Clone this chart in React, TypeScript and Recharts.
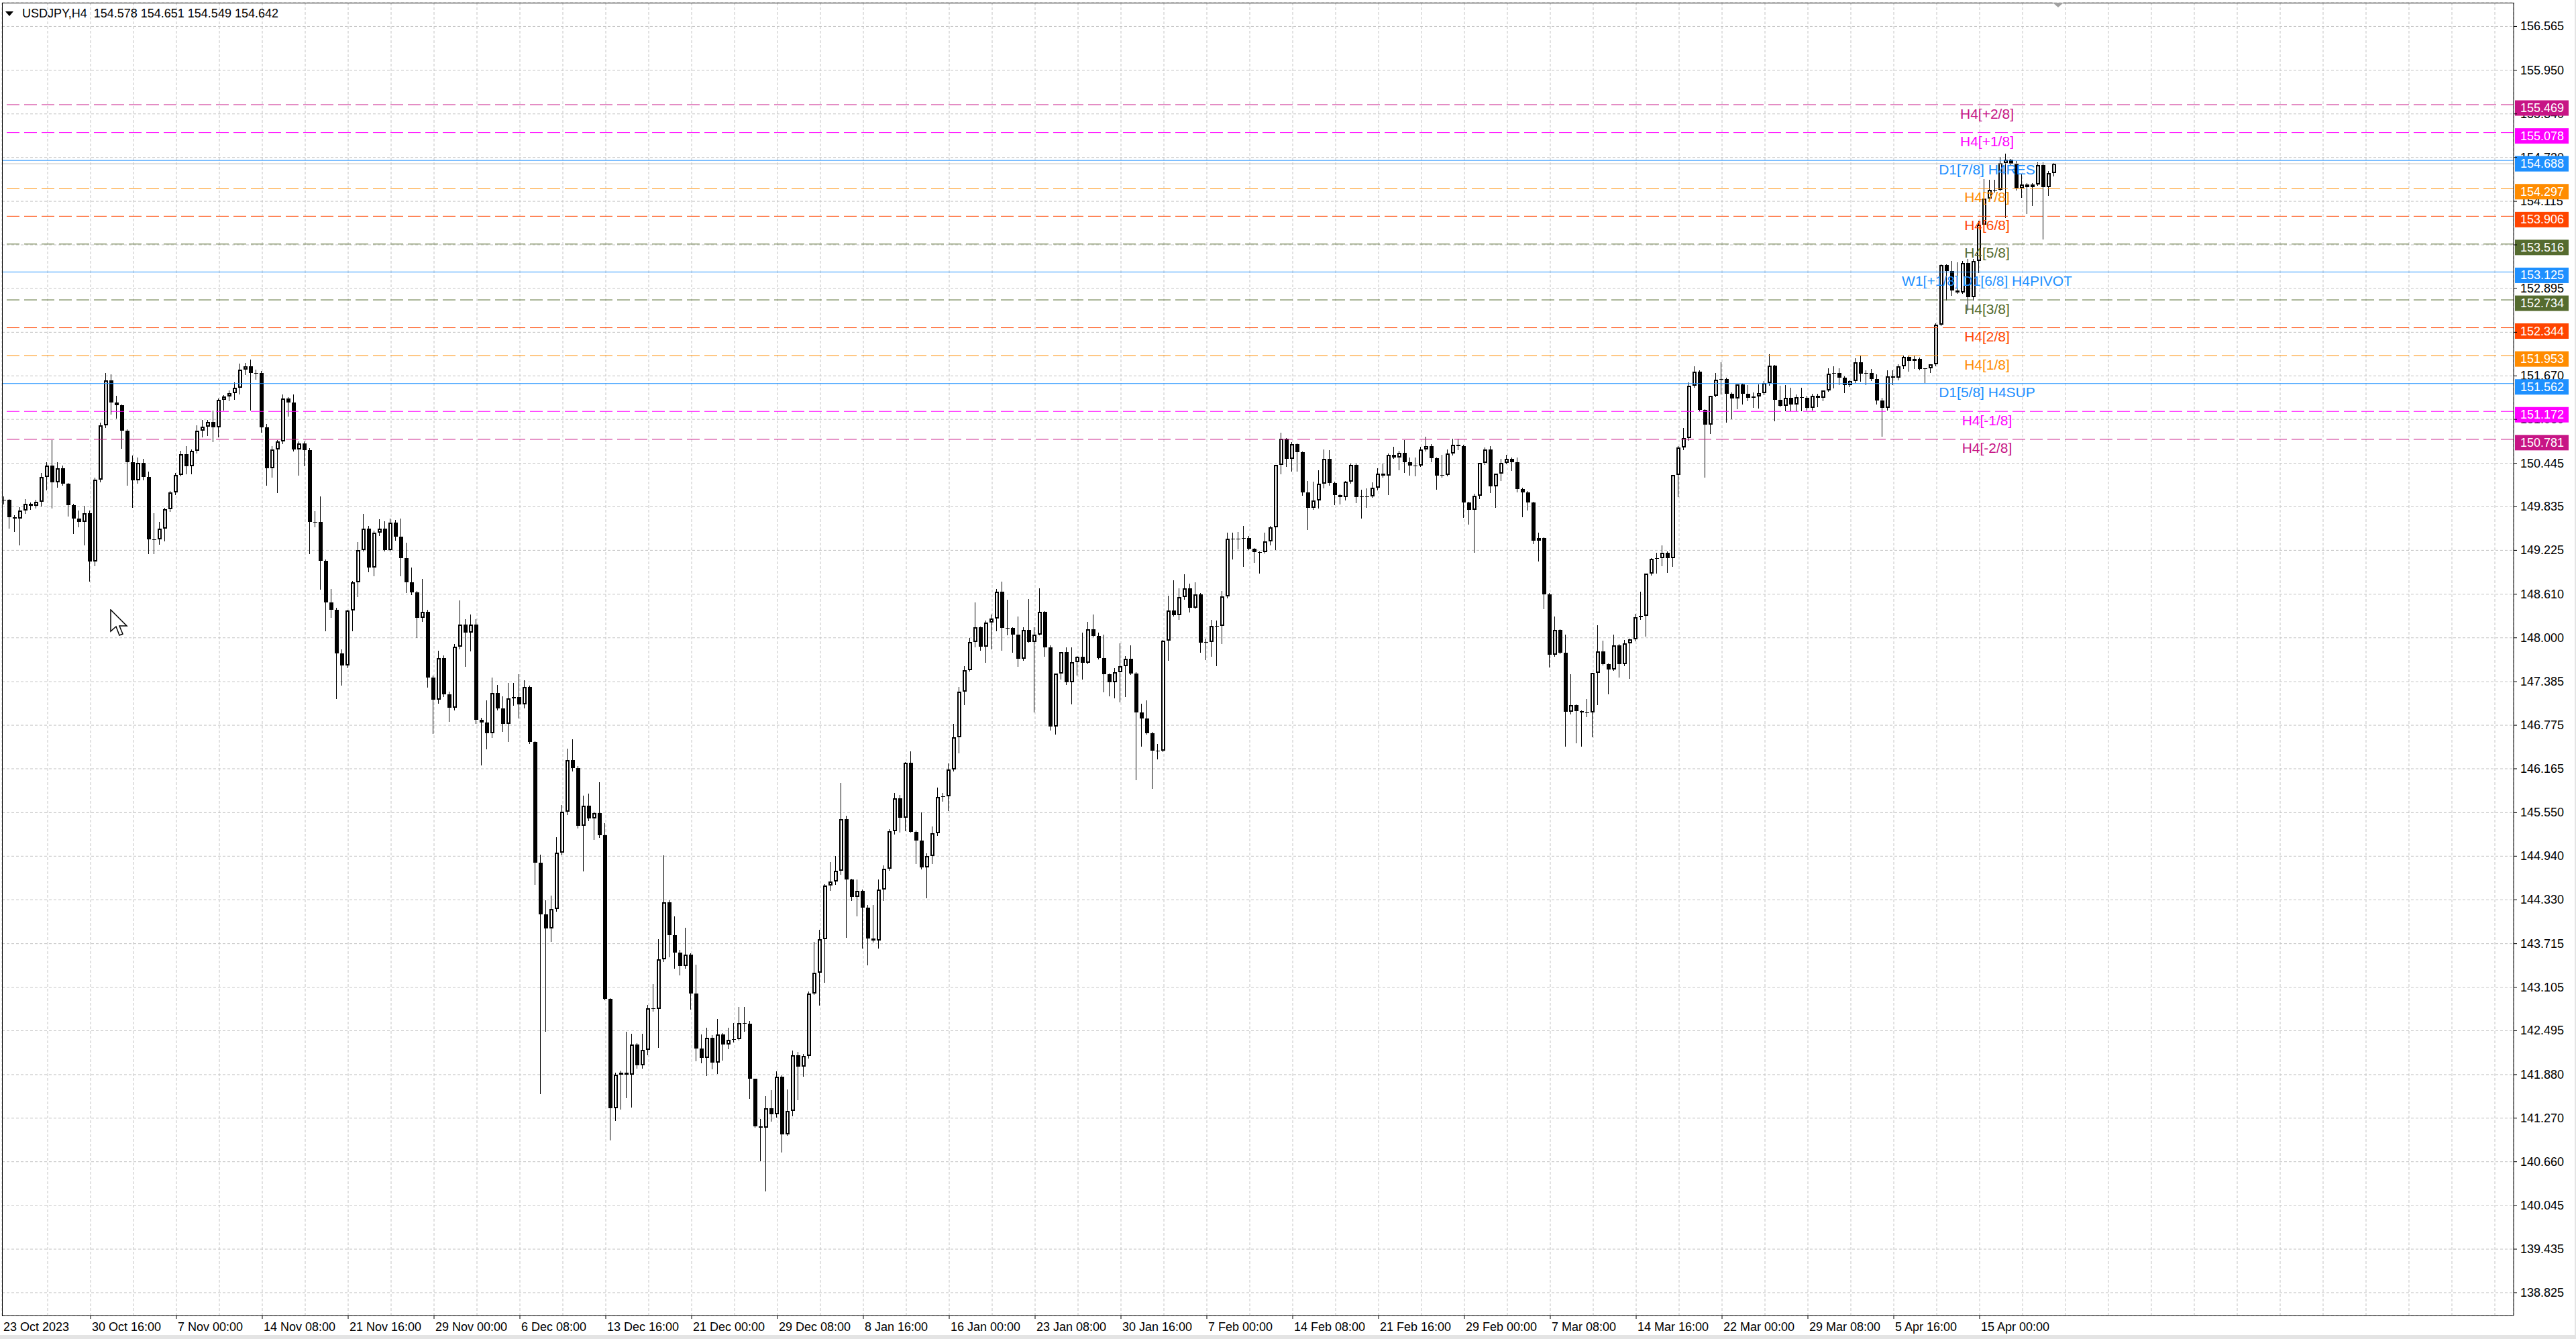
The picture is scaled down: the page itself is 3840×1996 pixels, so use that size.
import React from 'react'
import { ComposedChart, Bar, XAxis, YAxis, CartesianGrid, ReferenceLine } from 'recharts'

// USDJPY H4 per candle: [open, high, low, close]
const candlesOctNov = [
  [149.93, 149.98, 149.88, 149.93], [149.93, 149.94, 149.54, 149.69], [149.69, 149.72, 149.49, 149.67],
  [149.67, 149.83, 149.30, 149.78], [149.78, 149.94, 149.75, 149.88], [149.88, 149.90, 149.80, 149.85],
  [149.85, 149.93, 149.82, 149.91], [149.91, 150.31, 149.85, 150.25], [150.25, 150.46, 150.07, 150.41],
  [150.41, 150.77, 149.82, 150.18], [150.18, 150.46, 150.11, 150.38], [150.38, 150.41, 150.14, 150.16],
  [150.16, 150.17, 149.71, 149.86], [149.86, 149.88, 149.46, 149.67], [149.67, 149.78, 149.56, 149.62],
  [149.62, 149.85, 149.30, 149.75], [149.75, 149.78, 148.80, 149.07], [149.07, 150.24, 149.01, 150.22],
  [150.22, 151.01, 150.19, 150.98], [150.98, 151.71, 150.95, 151.61], [151.61, 151.69, 151.14, 151.30],
  [151.30, 151.39, 151.08, 151.26], [151.26, 151.27, 150.66, 150.90], [150.90, 150.92, 150.14, 150.46],
  [150.46, 150.55, 149.83, 150.21], [150.21, 150.53, 150.17, 150.45], [150.45, 150.51, 150.22, 150.25],
  [150.25, 150.33, 149.18, 149.38], [149.38, 149.75, 149.18, 149.38], [149.38, 149.62, 149.31, 149.53],
  [149.53, 149.82, 149.36, 149.80], [149.80, 150.06, 149.77, 150.04], [150.04, 150.31, 150.01, 150.28],
  [150.28, 150.62, 150.27, 150.57], [150.57, 150.69, 150.30, 150.40], [150.40, 150.64, 150.30, 150.62],
  [150.62, 150.98, 150.59, 150.90], [150.90, 151.05, 150.82, 150.96], [150.96, 151.05, 150.84, 151.02],
  [151.02, 151.18, 150.75, 150.95], [150.95, 151.35, 150.82, 151.33], [151.33, 151.40, 151.19, 151.38],
  [151.38, 151.47, 151.32, 151.43], [151.43, 151.58, 151.34, 151.50], [151.50, 151.84, 151.42, 151.76],
  [151.76, 151.85, 151.69, 151.80], [151.80, 151.90, 151.19, 151.71], [151.71, 151.76, 151.63, 151.71],
  [151.71, 151.74, 150.88, 150.95], [150.95, 151.00, 150.14, 150.38], [150.38, 150.69, 150.25, 150.64],
  [150.64, 150.77, 150.04, 150.75], [150.75, 151.41, 150.72, 151.35], [151.35, 151.37, 151.11, 151.30],
  [151.30, 151.41, 150.62, 150.64], [150.64, 150.75, 150.28, 150.72], [150.72, 150.75, 150.41, 150.63],
  [150.63, 150.66, 149.18, 149.62], [149.62, 149.77, 149.56, 149.62], [149.62, 149.98, 148.68, 149.08],
  [149.08, 149.10, 148.10, 148.50], [148.50, 148.68, 148.29, 148.39], [148.39, 148.42, 147.15, 147.78],
  [147.78, 147.84, 147.34, 147.61], [147.61, 148.39, 147.58, 148.38],
]

const candlesNovDec = [
  [148.38, 148.80, 148.10, 148.78], [148.78, 149.34, 148.58, 149.23], [149.23, 149.74, 149.22, 149.53],
  [149.53, 149.57, 148.93, 148.98], [148.98, 149.50, 148.87, 149.47], [149.47, 149.66, 149.44, 149.53],
  [149.53, 149.63, 149.22, 149.23], [149.23, 149.67, 149.22, 149.61], [149.61, 149.65, 149.37, 149.42],
  [149.42, 149.67, 148.87, 149.12], [149.12, 149.33, 148.64, 148.78], [148.78, 148.98, 148.61, 148.64],
  [148.64, 148.66, 148.01, 148.28], [148.28, 148.82, 148.23, 148.36], [148.36, 148.39, 147.31, 147.44],
  [147.44, 147.47, 146.66, 147.13], [147.13, 147.82, 147.09, 147.72], [147.72, 147.75, 147.18, 147.21],
  [147.21, 147.25, 146.83, 147.02], [147.02, 147.91, 146.99, 147.88], [147.88, 148.52, 147.85, 148.19],
  [148.19, 148.26, 147.60, 148.07], [148.07, 148.33, 147.82, 148.19], [148.19, 148.26, 146.80, 146.85],
  [146.85, 146.88, 146.22, 146.81], [146.81, 147.12, 146.45, 146.66], [146.66, 147.44, 146.61, 147.23],
  [147.23, 147.34, 146.99, 147.01], [147.01, 147.18, 146.69, 146.79], [146.79, 147.37, 146.55, 147.15],
  [147.15, 147.37, 147.06, 147.17], [147.17, 147.49, 146.88, 147.07], [147.07, 147.41, 147.02, 147.31],
  [147.31, 147.33, 146.52, 146.54], [146.54, 146.55, 144.55, 144.85], [144.85, 144.96, 141.62, 144.13],
  [144.13, 144.32, 142.49, 143.93], [143.93, 144.39, 143.75, 144.20], [144.20, 145.21, 144.17, 144.99],
  [144.99, 145.66, 144.96, 145.56], [145.56, 146.45, 145.53, 146.29], [146.29, 146.58, 146.14, 146.17],
  [146.17, 146.20, 145.34, 145.37], [145.37, 145.79, 144.74, 145.65], [145.65, 145.82, 145.44, 145.47],
  [145.47, 145.56, 145.18, 145.54], [145.54, 145.98, 145.21, 145.23], [145.23, 145.40, 142.93, 142.94],
  [142.94, 142.95, 140.97, 141.41], [141.41, 141.91, 141.24, 141.88], [141.88, 141.94, 141.40, 141.91],
  [141.91, 142.48, 141.56, 141.88], [141.88, 142.45, 141.43, 142.30], [142.30, 142.32, 141.97, 142.01],
  [142.01, 142.45, 141.97, 142.23], [142.23, 142.86, 142.16, 142.81], [142.81, 143.15, 142.77, 142.80],
  [142.80, 143.78, 142.26, 143.50], [143.50, 144.95, 143.47, 144.29], [144.29, 144.32, 143.53, 143.83],
  [143.83, 144.10, 143.37, 143.59], [143.59, 143.63, 143.28, 143.40], [143.40, 143.94, 143.37, 143.56],
  [143.56, 143.58, 142.80, 143.02],
]

const candlesDecJan = [
  [143.02, 143.42, 142.08, 142.25], [142.25, 142.44, 142.05, 142.11], [142.11, 142.54, 141.87, 142.40],
  [142.40, 142.43, 141.96, 142.05], [142.05, 142.66, 141.90, 142.44], [142.44, 142.46, 142.09, 142.30],
  [142.30, 142.54, 142.25, 142.37], [142.37, 142.60, 142.34, 142.38], [142.38, 142.83, 142.37, 142.60],
  [142.60, 142.83, 142.49, 142.59], [142.59, 142.63, 141.55, 141.82], [141.82, 141.82, 141.15, 141.16],
  [141.16, 141.26, 140.68, 141.14], [141.14, 141.58, 140.25, 141.41], [141.41, 141.66, 141.23, 141.32],
  [141.32, 141.93, 141.29, 141.85], [141.85, 141.87, 140.80, 141.04], [141.04, 141.67, 141.03, 141.37],
  [141.37, 142.22, 141.31, 142.15], [142.15, 142.20, 141.53, 141.99], [141.99, 142.17, 141.86, 142.14],
  [142.14, 143.04, 142.11, 143.02], [143.02, 143.74, 143.01, 143.31], [143.31, 143.91, 142.86, 143.78],
  [143.78, 144.55, 143.18, 144.53], [144.53, 144.86, 144.46, 144.59], [144.59, 144.94, 144.55, 144.74],
  [144.74, 145.97, 144.69, 145.46], [145.46, 145.51, 143.81, 144.61], [144.61, 144.62, 144.32, 144.37],
  [144.37, 144.61, 144.11, 144.45], [144.45, 144.47, 143.66, 144.22], [144.22, 144.26, 143.42, 143.79],
  [143.79, 144.26, 143.74, 143.76], [143.76, 144.61, 143.66, 144.47], [144.47, 144.81, 144.32, 144.76],
  [144.76, 145.32, 144.75, 145.29], [145.29, 145.83, 145.25, 145.75], [145.75, 145.80, 145.28, 145.48],
  [145.48, 146.26, 145.30, 146.25], [146.25, 146.41, 145.28, 145.28], [145.28, 145.30, 144.84, 145.16],
  [145.16, 145.55, 144.76, 144.78], [144.78, 144.98, 144.36, 144.94], [144.94, 145.36, 144.84, 145.26],
  [145.26, 145.90, 145.23, 145.77], [145.77, 145.83, 145.71, 145.78], [145.78, 146.24, 145.58, 146.16],
  [146.16, 146.79, 146.14, 146.61], [146.61, 147.31, 146.39, 147.25], [147.25, 147.60, 147.07, 147.55],
  [147.55, 148.00, 147.54, 147.94], [147.94, 148.50, 147.88, 148.15], [148.15, 148.16, 147.83, 147.88],
  [147.88, 148.24, 147.66, 148.21], [148.21, 148.33, 147.85, 148.27], [148.27, 148.68, 148.10, 148.65],
  [148.65, 148.79, 147.83, 148.14], [148.14, 148.53, 148.04, 148.14], [148.14, 148.15, 147.80, 148.04],
  [148.04, 148.30, 147.60, 147.71], [147.71, 148.15, 147.69, 148.11], [148.11, 148.54, 147.94, 147.94],
  [147.94, 148.15, 146.96, 148.04],
]

const candlesJanFeb = [
  [148.04, 148.69, 148.04, 148.36], [148.36, 148.37, 147.74, 147.87], [147.87, 147.89, 146.71, 146.76],
  [146.76, 147.50, 146.65, 147.50], [147.50, 147.80, 147.42, 147.80], [147.80, 147.87, 147.35, 147.38],
  [147.38, 147.87, 147.08, 147.66], [147.66, 147.74, 147.48, 147.73], [147.73, 148.07, 147.42, 147.65],
  [147.65, 148.22, 147.64, 148.12], [148.12, 148.33, 148.02, 148.03], [148.03, 148.07, 147.71, 147.72],
  [147.72, 148.04, 147.25, 147.49], [147.49, 147.50, 147.19, 147.38], [147.38, 147.57, 147.16, 147.52],
  [147.52, 147.92, 147.10, 147.60], [147.60, 147.74, 147.18, 147.71], [147.71, 147.89, 147.49, 147.50],
  [147.50, 147.52, 146.01, 146.95], [146.95, 147.08, 146.48, 146.87], [146.87, 147.12, 146.65, 146.66],
  [146.66, 146.68, 145.89, 146.42], [146.42, 146.51, 146.31, 146.42], [146.42, 147.97, 146.41, 147.96],
  [147.96, 148.59, 147.69, 148.38], [148.38, 148.81, 148.31, 148.32], [148.32, 148.69, 148.26, 148.57],
  [148.57, 148.89, 148.54, 148.69], [148.69, 148.76, 148.36, 148.42], [148.42, 148.78, 148.41, 148.61],
  [148.61, 148.63, 147.80, 147.93], [147.93, 147.99, 147.70, 147.94], [147.94, 148.25, 147.74, 148.17],
  [148.17, 148.24, 147.61, 148.17], [148.17, 148.66, 147.92, 148.58], [148.58, 149.47, 148.56, 149.39],
  [149.39, 149.47, 149.11, 149.38], [149.38, 149.48, 149.25, 149.39], [149.39, 149.57, 149.00, 149.40],
  [149.40, 149.43, 149.24, 149.25], [149.25, 149.26, 149.06, 149.20], [149.20, 149.21, 148.91, 149.20],
  [149.20, 149.47, 149.19, 149.35], [149.35, 149.57, 149.30, 149.55], [149.55, 150.42, 149.24, 150.42],
  [150.42, 150.87, 150.30, 150.79], [150.79, 150.80, 150.40, 150.51], [150.51, 150.74, 150.34, 150.71],
  [150.71, 150.72, 150.34, 150.60], [150.60, 150.61, 150.00, 150.04], [150.04, 150.20, 149.52, 149.82],
  [149.82, 150.19, 149.80, 149.92], [149.92, 150.35, 149.82, 150.16], [150.16, 150.64, 150.10, 150.51],
  [150.51, 150.63, 150.14, 150.17], [150.17, 150.19, 149.87, 150.00], [150.00, 150.02, 149.88, 149.97],
  [149.97, 150.20, 149.93, 150.19], [150.19, 150.44, 150.17, 150.42], [150.42, 150.44, 149.90, 149.97],
  [149.97, 150.07, 149.68, 149.98], [149.98, 150.09, 149.83, 149.98], [149.98, 150.18, 149.97, 150.10],
  [150.10, 150.38, 150.07, 150.30],
]

const candlesFebMar = [
  [150.30, 150.44, 150.25, 150.27], [150.27, 150.58, 150.01, 150.56], [150.56, 150.68, 150.52, 150.53],
  [150.53, 150.62, 150.36, 150.59], [150.59, 150.77, 150.32, 150.46], [150.46, 150.53, 150.28, 150.41],
  [150.41, 150.53, 150.27, 150.41], [150.41, 150.68, 150.40, 150.64], [150.64, 150.82, 150.62, 150.69],
  [150.69, 150.71, 150.47, 150.52], [150.52, 150.53, 150.08, 150.27], [150.27, 150.56, 150.25, 150.28],
  [150.28, 150.64, 150.27, 150.58], [150.58, 150.79, 150.56, 150.70], [150.70, 150.79, 150.64, 150.69],
  [150.69, 150.70, 149.69, 149.90], [149.90, 149.91, 149.60, 149.79], [149.79, 150.02, 149.20, 149.99],
  [149.99, 150.45, 149.95, 150.45], [150.45, 150.67, 150.43, 150.64], [150.64, 150.69, 150.04, 150.12],
  [150.12, 150.30, 149.83, 150.30], [150.30, 150.51, 150.21, 150.45], [150.45, 150.56, 150.44, 150.51],
  [150.51, 150.53, 150.35, 150.46], [150.46, 150.53, 150.05, 150.08], [150.08, 150.10, 149.70, 150.04],
  [150.04, 150.06, 149.79, 149.90], [149.90, 149.91, 149.32, 149.36], [149.36, 149.47, 149.08, 149.40],
  [149.40, 149.41, 148.41, 148.61], [148.61, 148.63, 147.59, 147.76], [147.76, 148.30, 147.74, 148.11],
  [148.11, 148.12, 147.78, 147.79], [147.79, 148.04, 146.48, 146.96], [146.96, 147.49, 146.94, 147.06],
  [147.06, 147.07, 146.53, 146.97], [146.97, 146.98, 146.48, 146.95], [146.95, 147.14, 146.90, 146.95],
  [146.95, 147.51, 146.62, 147.51], [147.51, 148.18, 147.07, 147.81], [147.81, 147.96, 147.62, 147.63],
  [147.63, 147.64, 147.22, 147.56], [147.56, 148.04, 147.55, 147.89], [147.89, 147.91, 147.45, 147.63],
  [147.63, 147.97, 147.61, 147.92], [147.92, 147.99, 147.43, 147.98], [147.98, 148.34, 147.96, 148.29],
  [148.29, 148.65, 148.26, 148.31], [148.31, 148.90, 148.03, 148.90], [148.90, 149.12, 148.88, 149.11],
  [149.11, 149.19, 148.91, 149.12], [149.12, 149.29, 149.01, 149.19], [149.19, 149.21, 148.92, 149.12],
  [149.12, 150.28, 149.00, 150.28], [150.28, 150.69, 149.98, 150.67], [150.67, 150.94, 150.64, 150.80],
  [150.80, 151.58, 150.77, 151.53], [151.53, 151.80, 151.51, 151.73], [151.73, 151.75, 151.18, 151.19],
  [151.19, 151.20, 150.25, 150.99], [150.99, 151.39, 150.86, 151.39], [151.39, 151.71, 151.38, 151.62],
]

const candlesMarApr = [
  [151.62, 151.86, 151.42, 151.63], [151.63, 151.64, 151.02, 151.42], [151.42, 151.44, 151.07, 151.35],
  [151.35, 151.55, 151.21, 151.55], [151.55, 151.56, 151.28, 151.42], [151.42, 151.54, 151.32, 151.36],
  [151.36, 151.44, 151.23, 151.38], [151.38, 151.55, 151.22, 151.43], [151.43, 151.60, 151.41, 151.57],
  [151.57, 151.97, 151.54, 151.81], [151.81, 151.82, 151.04, 151.33], [151.33, 151.53, 151.24, 151.25],
  [151.25, 151.54, 151.18, 151.36], [151.36, 151.50, 151.18, 151.27], [151.27, 151.41, 151.18, 151.37],
  [151.37, 151.50, 151.18, 151.36], [151.36, 151.39, 151.19, 151.22], [151.22, 151.42, 151.19, 151.39],
  [151.39, 151.42, 151.24, 151.36], [151.36, 151.47, 151.32, 151.47], [151.47, 151.78, 151.46, 151.70],
  [151.70, 151.80, 151.50, 151.71], [151.71, 151.78, 151.55, 151.64], [151.64, 151.66, 151.44, 151.54],
  [151.54, 151.61, 151.52, 151.60], [151.60, 151.92, 151.58, 151.86], [151.86, 151.95, 151.60, 151.70],
  [151.70, 151.75, 151.55, 151.71], [151.71, 151.77, 151.61, 151.63], [151.63, 151.69, 151.28, 151.32],
  [151.32, 151.36, 150.83, 151.22], [151.22, 151.75, 151.19, 151.66], [151.66, 151.75, 151.55, 151.64],
  [151.64, 151.83, 151.62, 151.80], [151.80, 151.95, 151.78, 151.94], [151.94, 151.95, 151.74, 151.88],
  [151.88, 151.95, 151.78, 151.91], [151.91, 151.93, 151.76, 151.77], [151.77, 151.78, 151.58, 151.78],
  [151.78, 151.83, 151.72, 151.83], [151.83, 152.41, 151.81, 152.39], [152.39, 153.23, 152.38, 153.22],
  [153.22, 153.23, 152.73, 153.14], [153.14, 153.28, 152.80, 152.87], [152.87, 153.26, 152.83, 152.84],
  [152.84, 153.28, 152.83, 153.25], [153.25, 153.31, 152.59, 152.77], [152.77, 153.31, 152.73, 153.28],
  [153.28, 153.84, 153.12, 153.79], [153.79, 154.43, 153.78, 154.15], [154.15, 154.42, 154.12, 154.28],
  [154.28, 154.42, 154.25, 154.28], [154.28, 154.74, 154.27, 154.65], [154.65, 154.78, 153.89, 154.70],
  [154.70, 154.71, 154.62, 154.64], [154.64, 154.68, 154.28, 154.29], [154.29, 154.50, 154.17, 154.35],
  [154.35, 154.37, 153.95, 154.31], [154.31, 154.37, 154.06, 154.35], [154.35, 154.66, 154.34, 154.62],
  [154.62, 154.66, 153.59, 154.31], [154.31, 154.54, 154.20, 154.51], [154.51, 154.65, 154.47, 154.64],
]

// header: last H4 bar O H L C
const symbolName = 'USDJPY,H4'
const lastBar = [154.578, 154.651, 154.549, 154.642]
const bidPrice = 154.642

// levels from the murrey indicator
const levelPrices = [155.469, 155.078, 154.688, 154.297, 153.906, 153.516, 153.125, 152.734, 152.344, 151.953, 151.562, 151.172, 150.781]
const levelNames = ['H4[+2/8]', 'H4[+1/8]', 'D1[7/8] H4RES', 'H4[7/8]', 'H4[6/8]', 'H4[5/8]', 'W1[+1/8] D1[6/8] H4PIVOT',
  'H4[3/8]', 'H4[2/8]', 'H4[1/8]', 'D1[5/8] H4SUP', 'H4[-1/8]', 'H4[-2/8]']
const levelColors = ['#C71585', '#FF00FF', '#1E90FF', '#FF8C00', '#FF4500', '#556B2F', '#1E90FF',
  '#556B2F', '#FF4500', '#FF8C00', '#1E90FF', '#FF00FF', '#C71585']
const levelSolid = [false, false, true, false, false, false, true, false, false, false, true, false, false]

const priceTicks = [156.565, 155.950, 155.340, 154.730, 154.115, 153.505, 152.895, 152.280, 151.670, 151.060,
  150.445, 149.835, 149.225, 148.610, 148.000, 147.385, 146.775, 146.165, 145.550, 144.940,
  144.330, 143.715, 143.105, 142.495, 141.880, 141.270, 140.660, 140.045, 139.435, 138.825]

const firstTimeLabel = '23 Oct 2023'
const timeLabels = ['30 Oct 16:00', '7 Nov 00:00', '14 Nov 08:00', '21 Nov 16:00', '29 Nov 00:00', '6 Dec 08:00',
  '13 Dec 16:00', '21 Dec 00:00', '29 Dec 08:00', '8 Jan 16:00', '16 Jan 00:00', '23 Jan 08:00', '30 Jan 16:00',
  '7 Feb 00:00', '14 Feb 08:00', '21 Feb 16:00', '29 Feb 00:00', '7 Mar 08:00', '14 Mar 16:00', '22 Mar 00:00',
  '29 Mar 08:00', '5 Apr 16:00', '15 Apr 00:00']
const timeLabelSlots = [16, 32, 48, 64, 80, 96, 112, 128, 144, 160, 176, 192, 208, 224, 240, 256, 272, 288, 304,
  320, 336, 352, 368]

const TOTAL_SLOTS = 468 // candles plus the empty shift area on the right
const gridSlots = Array.from({ length: 58 }, (_, i) => 8 + i * 8)

const FONT = '"Liberation Sans", Arial, sans-serif'
const PLOT_BOTTOM = 1961
const PLOT_RIGHT = 3747
const LABEL_CENTER_X = 2962
const BOX_X = 3749
const BOX_SHIFT = 5 // terminal draws the price boxes a few pixels under their line

function Candle(props: any) {
  const { x, y, width, height, payload } = props
  if (!payload || payload.high == null || !isFinite(y) || !isFinite(height)) return null
  const top = Math.min(y, y + height)
  const bottom = Math.max(y, y + height)
  const span = payload.high - payload.low || 1
  const toY = (v: number) => top + ((payload.high - v) / span) * (bottom - top)
  const cx = Math.floor(x + width / 2)
  const yo = toY(payload.open)
  const yc = toY(payload.close)
  const up = payload.close >= payload.open
  const bTop = Math.round(Math.min(yo, yc))
  const bH = Math.max(1, Math.round(Math.max(yo, yc)) - bTop)
  return (
    <g>
      <line x1={cx - 0.5} x2={cx - 0.5} y1={Math.round(top)} y2={Math.round(bottom) + 1} stroke="#000" strokeWidth={1} />
      {up && bH > 3 ? (
        <rect x={cx - 2} y={bTop + 1} width={4} height={bH - 2} fill="#fff" stroke="#000" strokeWidth={2} />
      ) : (
        <rect x={cx - 3} y={bTop} width={6} height={bH} fill="#000" />
      )}
    </g>
  )
}

function TimeTick(props: any) {
  const { x, payload } = props
  const idx = timeLabelSlots.indexOf(payload.value)
  if (idx < 0) return null
  return (
    <g>
      <line x1={x} x2={x} y1={PLOT_BOTTOM} y2={PLOT_BOTTOM + 5} stroke="#000" />
      <text x={x + 2} y={PLOT_BOTTOM + 17} fontSize={18} fontFamily={FONT} fill="#000" dominantBaseline="central">
        {timeLabels[idx]}
      </text>
    </g>
  )
}

// the price scale text is drawn as reference-line labels so the level boxes can cover it
function EmptyTick() {
  return <g />
}

function PriceTickLabel(props: any) {
  const { viewBox, value } = props
  if (!viewBox) return null
  return (
    <text x={PLOT_RIGHT + 10} y={viewBox.y} fontSize={18} fontFamily={FONT} fill="#000" dominantBaseline="central">
      {Number(value).toFixed(3)}
    </text>
  )
}

function LevelLabel(props: any) {
  const { viewBox, name, color, price } = props
  if (!viewBox) return null
  const y = viewBox.y
  return (
    <g>
      <text x={LABEL_CENTER_X} y={y + 13} textAnchor="middle" dominantBaseline="central" fontSize={21} fontFamily={FONT} fill={color}>
        {name}
      </text>
      <rect x={BOX_X} y={y + BOX_SHIFT - 11.5} width={80} height={23} fill={color} />
      <text x={BOX_X + 8} y={y + BOX_SHIFT} dominantBaseline="central" fontSize={18} fontFamily={FONT} fill="#fff">
        {price.toFixed(3)}
      </text>
    </g>
  )
}

function FirstTimeLabel(props: any) {
  const { viewBox } = props
  if (!viewBox) return null
  return (
    <text x={viewBox.x - 2} y={PLOT_BOTTOM + 17} fontSize={18} fontFamily={FONT} fill="#000" dominantBaseline="central">
      {firstTimeLabel}
    </text>
  )
}

export default function App() {
  const candles = [...candlesOctNov, ...candlesNovDec, ...candlesDecJan, ...candlesJanFeb, ...candlesFebMar, ...candlesMarApr]
  const data = Array.from({ length: TOTAL_SLOTS }, (_, slot) => {
    const c = candles[slot]
    if (!c) return { slot }
    const [o, h, l, cl] = c
    const high = Math.max(h, o, cl)
    const low = Math.min(l, o, cl)
    return { slot, open: o, high, low, close: cl, range: [low, high] }
  })

  return (
    <div style={{ position: 'relative', width: 3840, height: 1996, background: '#e4e4e4', fontFamily: FONT }}>
      <style>{'body{margin:0}'}</style>
      <div style={{ position: 'absolute', left: 0, top: 0, width: 3838, height: 1990, background: '#fff' }}>
        <ComposedChart width={3836} height={1990} data={data} margin={{ top: 4, right: 0, bottom: 0, left: 3 }}>
          <CartesianGrid stroke="#c4c4c4" strokeDasharray="4 3" />
          <XAxis
            dataKey="slot"
            type="category"
            ticks={gridSlots}
            interval={0}
            height={29}
            tickLine={false}
            axisLine={{ stroke: '#000' }}
            tick={<TimeTick />}
          />
          <YAxis
            orientation="right"
            type="number"
            domain={[138.505, 156.898]}
            allowDataOverflow
            ticks={priceTicks}
            interval={0}
            width={89}
            tickSize={5}
            tickMargin={5}
            tickLine={{ stroke: '#000' }}
            axisLine={{ stroke: '#000' }}
            tick={<EmptyTick />}
          />
          <ReferenceLine x={0} stroke="none" label={<FirstTimeLabel />} />
          {priceTicks.map(v => (
            <ReferenceLine key={'t' + v} y={v} stroke="none" label={<PriceTickLabel value={v} />} />
          ))}
          <ReferenceLine y={bidPrice} stroke="#C0C0C0" strokeWidth={1} />
          {levelPrices.map((p, i) => (
            <ReferenceLine
              key={levelNames[i]}
              y={p}
              stroke={levelColors[i]}
              strokeWidth={1}
              strokeDasharray={levelSolid[i] ? undefined : '19 7'}
              label={<LevelLabel name={levelNames[i]} color={levelColors[i]} price={p} />}
            />
          ))}
          <Bar dataKey="range" isAnimationActive={false} shape={(p: any) => <Candle {...p} />} />
        </ComposedChart>

        {/* chart frame, top and left edges */}
        <div style={{ position: 'absolute', left: 3, top: 4, width: 3744, height: 1957, borderLeft: '1px solid #000', borderTop: '1px solid #000', pointerEvents: 'none' }} />

        {/* header */}
        <div style={{ position: 'absolute', left: 8, top: 9, display: 'flex', alignItems: 'center', fontSize: 18, lineHeight: '22px', color: '#000', whiteSpace: 'pre' }}>
          <svg width={12} height={7} style={{ marginRight: 13 }}>
            <polygon points="0,0 12,0 6,7" fill="#000" />
          </svg>
          <span>{`${symbolName}  ${lastBar.map(v => v.toFixed(3)).join(' ')}`}</span>
        </div>

        {/* chart shift marker */}
        <svg style={{ position: 'absolute', left: 3060, top: 4 }} width={16} height={8}>
          <polygon points="0,0 16,0 8,7" fill="#a0a0a0" />
        </svg>

        {/* mouse pointer left in the screenshot */}
        <svg style={{ position: 'absolute', left: 164, top: 908 }} width={30} height={42}>
          <polygon points="1,1 1,33 9,26 14,39 19,37 14,25 25,25" fill="#fff" stroke="#000" strokeWidth={1.5} />
        </svg>
      </div>
    </div>
  )
}
